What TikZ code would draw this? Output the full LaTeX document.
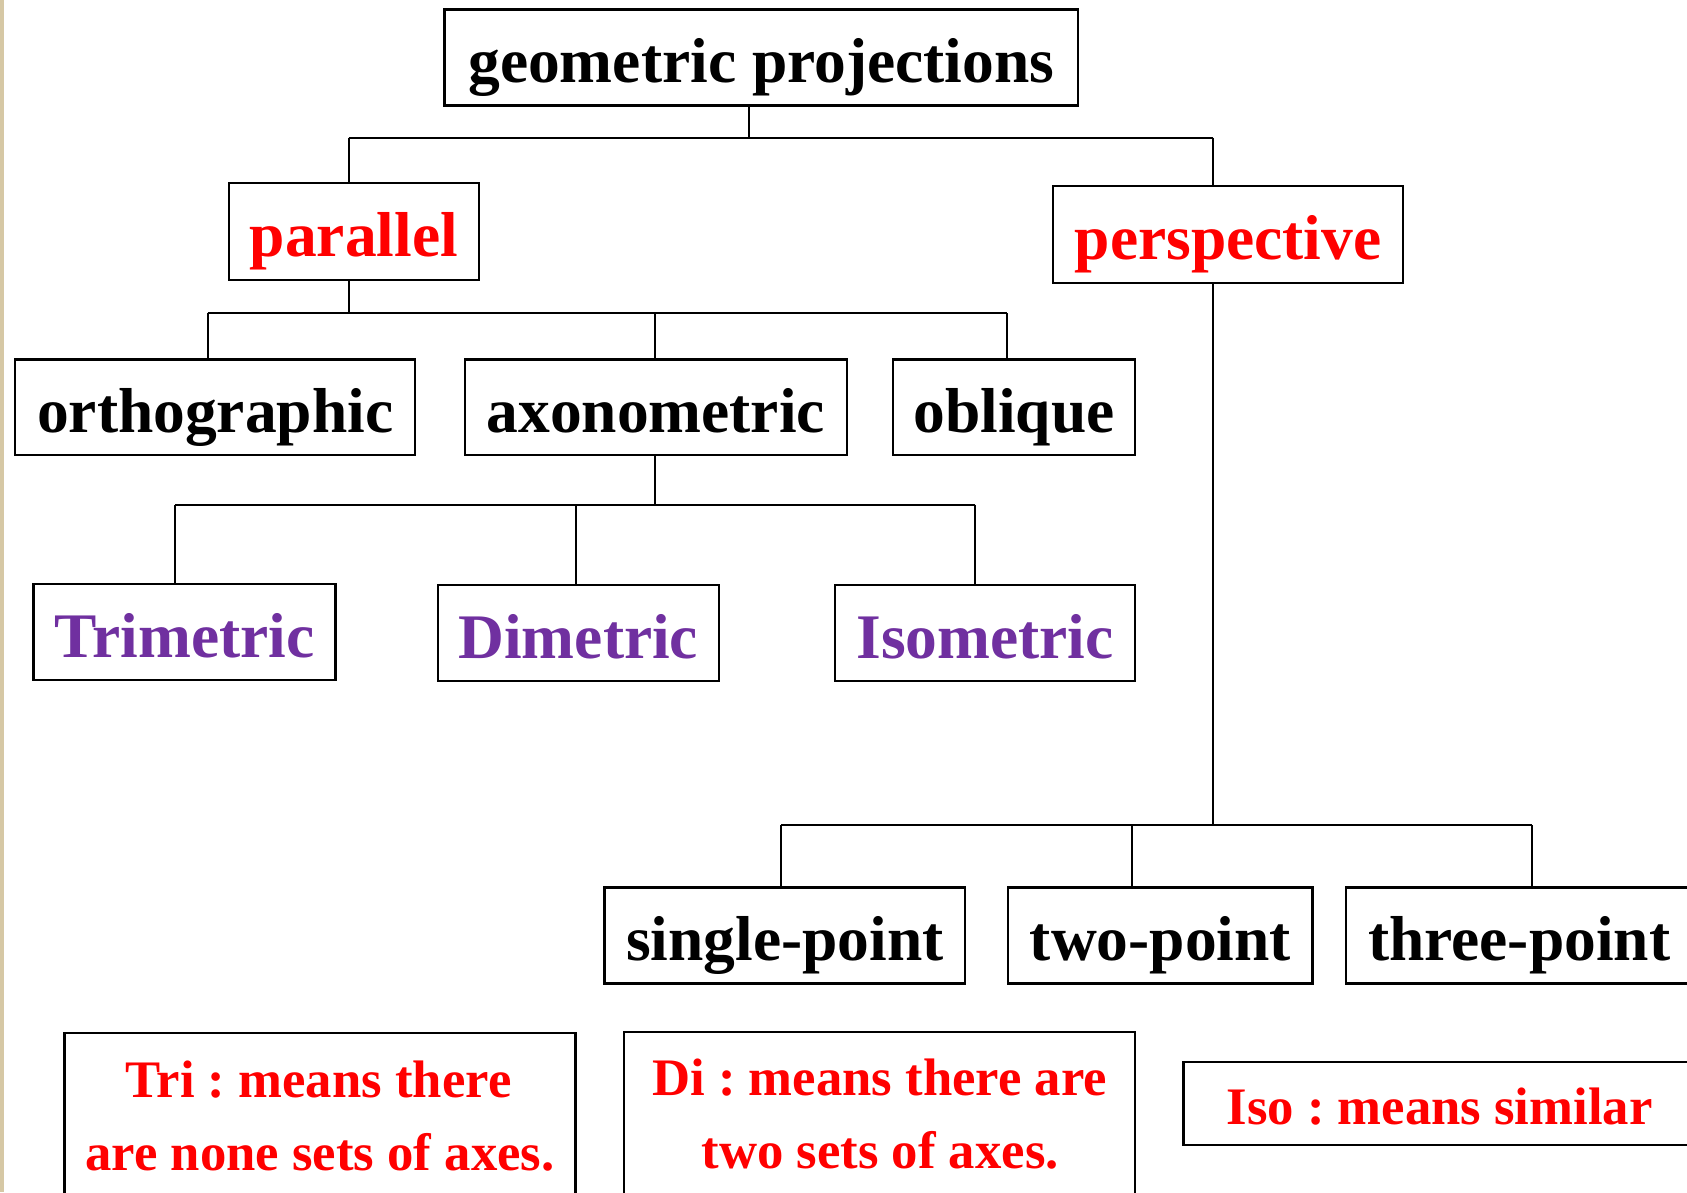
\documentclass[tikz,border=0pt]{standalone}
\usepackage{fontspec}
\setmainfont{Liberation Serif}
\frenchspacing
\definecolor{tred}{RGB}{255,0,0}
\definecolor{tpurple}{RGB}{112,48,160}
\definecolor{beige}{RGB}{214,200,165}
\begin{document}
\begin{tikzpicture}[x=0.5pt,y=-0.5pt,
  box/.style={draw=black, line width=1.1pt, inner sep=0pt, minimum height=44.5pt,
    font=\fontsize{29.5}{34}\selectfont\bfseries, text height=29.5pt, text depth=5.9pt},
  redtxt/.style={text=tred},
  purtxt/.style={text=tpurple},
  notebox/.style={draw=black, line width=1.1pt, inner sep=0pt},
  notetext/.style={inner sep=0pt, anchor=base, text=tred, font=\fontsize{24.5}{34}\selectfont\bfseries\frenchspacing},
  conn/.style={draw=black, line width=0.9pt}]
\useasboundingbox (0,0) rectangle (1568,1108);
\fill[white] (0,0) rectangle (1568,1108);
\fill[beige] (0,0) rectangle (4,1108);

% tree nodes
\node[box, minimum width=294.5pt] (geo) at (707.5,53.5) {geometric projections};
\node[box, redtxt, minimum width=116pt, minimum height=45pt] (par) at (329,215) {parallel};
\node[box, redtxt, minimum width=162.5pt, minimum height=45pt] (per) at (1141.5,218) {perspective};
\node[box, minimum width=186pt] (ortho) at (200,378.5) {orthographic};
\node[box, minimum width=177.5pt] (axo) at (609.5,378.5) {axonometric};
\node[box, minimum width=112.5pt] (obl) at (942.5,378.5) {oblique};
\node[box, purtxt, minimum width=140.5pt] (tri) at (171.5,587.5) {Trimetric};
\node[box, purtxt, minimum width=130.5pt] (di) at (537.5,588.5) {Dimetric};
\node[box, purtxt, minimum width=139.5pt] (iso) at (915.5,588.5) {Isometric};
\node[box, minimum width=167.5pt] (single) at (729.5,869.5) {single-point};
\node[box, minimum width=141.5pt] (two) at (1078.5,869.5) {two-point};
\node[box, minimum width=161pt] (three) at (1412,869.5) {three-point};

% note boxes
\node[notebox, minimum width=237.5pt, minimum height=85pt] (trinote) at (297.5,1045) {};
\node[notebox, minimum width=237.5pt, minimum height=85.5pt] (dinote) at (817.5,1044.5) {};
\node[notebox, minimum width=238pt, minimum height=38.5pt] (isonote) at (1338,1025.5) {};
\node[notetext] (tri1) at (296,1020) {Tri : means there};
\node[notetext] (tri2) at (297.5,1088) {are none sets of axes.};
\node[notetext] (di1) at (817.5,1018) {Di : means there are};
\node[notetext] (di2) at (818,1086) {two sets of axes.};
\node[notetext] (iso1) at (1338,1045) {Iso : means similar};

% junction coordinates
\coordinate (j0) at (696,128);
\coordinate (j0L) at (324,128);
\coordinate (j0R) at (1127,128);
\coordinate (j1) at (324,291);
\coordinate (j1L) at (193,291);
\coordinate (j1M) at (609,291);
\coordinate (j1R) at (936,291);
\coordinate (j2) at (609,469);
\coordinate (j2L) at (163,469);
\coordinate (j2M) at (535,469);
\coordinate (j2R) at (906,469);
\coordinate (j3) at (1127,767);
\coordinate (j3L) at (726,767);
\coordinate (j3M) at (1052,767);
\coordinate (j3R) at (1424,767);

% connectors
\draw[conn] (geo.south -| j0) -- (j0);
\draw[conn] (j0L) -- (j0R);
\draw[conn] (j0L) -- (j0L |- par.north);
\draw[conn] (j0R) -- (j0R |- per.north);

\draw[conn] (par.south -| j1) -- (j1);
\draw[conn] (j1L) -- (j1R);
\draw[conn] (j1L) -- (j1L |- ortho.north);
\draw[conn] (j1M) -- (j1M |- axo.north);
\draw[conn] (j1R) -- (j1R |- obl.north);

\draw[conn] (axo.south -| j2) -- (j2);
\draw[conn] (j2L) -- (j2R);
\draw[conn] (j2L) -- (j2L |- tri.north);
\draw[conn] (j2M) -- (j2M |- di.north);
\draw[conn] (j2R) -- (j2R |- iso.north);

\draw[conn] (per.south -| j3) -- (j3);
\draw[conn] (j3L) -- (j3R);
\draw[conn] (j3L) -- (j3L |- single.north);
\draw[conn] (j3M) -- (j3M |- two.north);
\draw[conn] (j3R) -- (j3R |- three.north);
\end{tikzpicture}
\end{document}
